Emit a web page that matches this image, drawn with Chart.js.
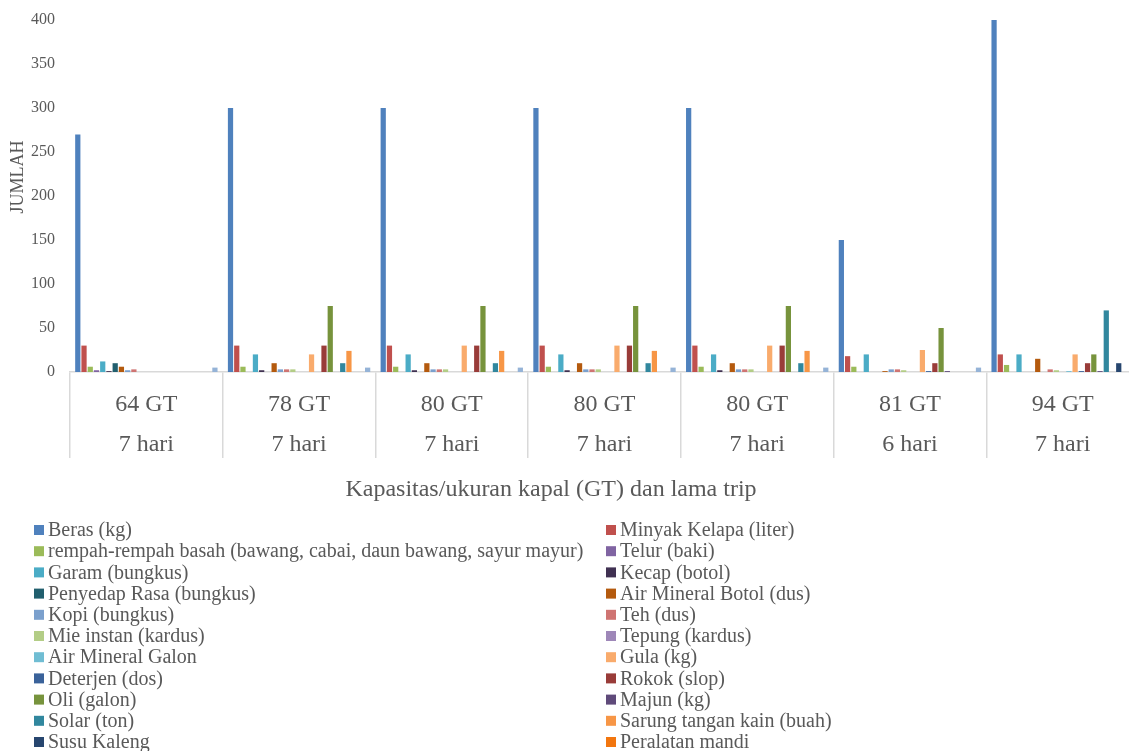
<!DOCTYPE html>
<html>
<head>
<meta charset="utf-8">
<script src="https://cdn.jsdelivr.net/npm/chart.js@4/dist/chart.umd.min.js"></script>
<style>
  html, body { margin: 0; padding: 0; overflow: hidden; background: #fff; }
</style>
</head>
<body>
<canvas id="chart" width="1150" height="751"></canvas>
<script>
// kapasitas kapal + lama trip (two-level category axis)
const categories = [
    ['64 GT', '7 hari'],
    ['78 GT', '7 hari'],
    ['80 GT', '7 hari'],
    ['80 GT', '7 hari'],
    ['80 GT', '7 hari'],
    ['81 GT', '6 hari'],
    ['94 GT', '7 hari']
];

const seriesNames = [
    'Beras (kg)', 'Minyak Kelapa (liter)',
    'rempah-rempah basah (bawang, cabai, daun bawang, sayur mayur)', 'Telur (baki)',
    'Garam (bungkus)', 'Kecap (botol)',
    'Penyedap Rasa (bungkus)', 'Air Mineral Botol (dus)',
    'Kopi (bungkus)', 'Teh (dus)',
    'Mie instan (kardus)', 'Tepung (kardus)',
    'Air Mineral Galon', 'Gula (kg)',
    'Deterjen (dos)', 'Rokok (slop)',
    'Oli (galon)', 'Majun (kg)',
    'Solar (ton)', 'Sarung tangan kain (buah)',
    'Susu Kaleng', 'Peralatan mandi',
    '' // 23rd series: its legend row is cut off in the source picture
];

const seriesColors = [
    '#4F81BD', '#C0504D', '#9BBB59', '#8064A2', '#4BACC6', '#403152',
    '#215F6E', '#B45A0E', '#7BA0CD', '#CF7472', '#B3CD86', '#9E87B8',
    '#70BDD3', '#F9AB6C', '#3A629A', '#993C39', '#77933C', '#5F4A7A',
    '#31879E', '#F79646', '#27466F', '#F2760F', '#95B3D7'
];

// one row per series, one value per category
const seriesValues = [
    [270, 300, 300, 300, 300, 150, 400],
    [30, 30, 30, 30, 30, 18, 20],
    [6, 6, 6, 6, 6, 6, 8],
    [2, 0, 0, 0, 0, 0, 0],
    [12, 20, 20, 20, 20, 20, 20],
    [1, 2, 2, 2, 2, 0, 0],
    [10, 0, 0, 0, 0, 0, 0],
    [6, 10, 10, 10, 10, 1, 15],
    [2, 3, 3, 3, 3, 3, 0],
    [3, 3, 3, 3, 3, 3, 3],
    [0, 3, 3, 3, 3, 2, 2],
    [0, 0, 0, 0, 0, 0, 0],
    [0, 0, 0, 0, 0, 0, 1],
    [0, 20, 30, 30, 30, 25, 20],
    [0, 0, 0, 0, 0, 1, 1],
    [0, 30, 30, 30, 30, 10, 10],
    [0, 75, 75, 75, 75, 50, 20],
    [0, 0, 0, 0, 0, 1, 1],
    [0, 10, 10, 10, 10, 0, 70],
    [0, 24, 24, 24, 24, 0, 0],
    [0, 0, 0, 0, 0, 0, 10],
    [0, 0, 0, 0, 0, 0, 0],
    [5, 5, 5, 5, 5, 5, 0]
];

const yTitle = 'JUMLAH';
const xTitle = 'Kapasitas/ukuran kapal (GT) dan lama trip';

const serif = "'Liberation Serif', 'Times New Roman', serif";
const textGray = '#595959';
const lineGray = '#D9D9D9';

// titles + two-column legend drawn on the canvas
const decorPlugin = {
    id: 'decor',
    afterDraw(chart) {
        const ctx = chart.ctx;

        ctx.save();
        ctx.fillStyle = textGray;
        ctx.font = '18px ' + serif;
        ctx.textAlign = 'center';
        ctx.textBaseline = 'middle';
        ctx.translate(18, 177);
        ctx.rotate(-Math.PI / 2);
        ctx.fillText(yTitle, 0, 0);
        ctx.restore();

        ctx.save();
        ctx.fillStyle = textGray;
        ctx.font = '24px ' + serif;
        ctx.textAlign = 'center';
        ctx.textBaseline = 'middle';
        ctx.fillText(xTitle, 551, 490);
        ctx.restore();

        ctx.save();
        ctx.font = '20px ' + serif;
        ctx.textAlign = 'left';
        ctx.textBaseline = 'middle';
        chart.data.datasets.forEach((ds, i) => {
            const col = i % 2;
            const row = Math.floor(i / 2);
            const x = col === 0 ? 34 : 606;
            const y = 530 + row * 21.2;
            ctx.fillStyle = ds.backgroundColor;
            ctx.fillRect(x, y - 5, 10, 10);
            if (ds.label) {
                ctx.fillStyle = textGray;
                ctx.fillText(ds.label, x + 14, y + 1);
            }
        });
        ctx.restore();
    }
};

const datasets = seriesNames.map((name, i) => ({
    label: name,
    data: seriesValues[i],
    backgroundColor: seriesColors[i],
    borderWidth: 0,
    barPercentage: 0.84,
    categoryPercentage: 23 / 24.5
}));

new Chart(document.getElementById('chart').getContext('2d'), {
    type: 'bar',
    data: { labels: categories, datasets: datasets },
    options: {
        responsive: false,
        animation: false,
        layout: { padding: { top: 20, left: 0, right: 11, bottom: 289 } },
        plugins: {
            legend: { display: false },
            tooltip: { enabled: false }
        },
        scales: {
            x: {
                grid: {
                    display: true,
                    drawOnChartArea: false,
                    drawTicks: true,
                    tickLength: 86,
                    offset: true,
                    color: lineGray,
                    lineWidth: 1.5
                },
                border: { display: true, color: lineGray, width: 1.5 },
                ticks: {
                    color: textGray,
                    font: { family: serif, size: 24, lineHeight: 1.667 },
                    padding: -73,
                    maxRotation: 0,
                    autoSkip: false
                },
                afterFit(scale) { scale.height = 90; }
            },
            y: {
                min: 0,
                max: 400,
                ticks: {
                    stepSize: 50,
                    color: textGray,
                    // small lineHeight keeps the top label from pushing the plot down
                    font: { family: serif, size: 16, lineHeight: 0.6 },
                    padding: 15
                },
                grid: { display: false, drawTicks: false },
                border: { display: false },
                afterFit(scale) { scale.width = 70; }
            }
        }
    },
    plugins: [decorPlugin]
});
</script>
</body>
</html>
